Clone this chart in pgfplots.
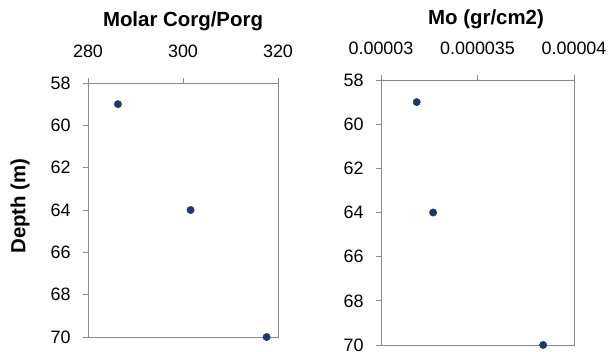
\documentclass[border=0pt]{standalone}
\usepackage{fontspec}
\setmainfont{Liberation Sans}
\usepackage{pgfplots}
\pgfplotsset{compat=1.18}
\definecolor{mk}{HTML}{1F3864}
\definecolor{axc}{HTML}{898989}
\begin{document}
\begin{tikzpicture}[x=1bp,y=1bp]
\useasboundingbox (0,0) rectangle (612,351);
\pgfplotsset{
  panel/.style={
    anchor=south west, scale only axis, clip=false,
    ymin=58, ymax=70, y dir=reverse, ytick={58,60,62,64,66,68,70},
    xtick pos=right, xticklabel pos=right, ytick pos=left,
    scaled x ticks=false,
    tick align=outside, major tick length=5bp,
    axis line style={axc, line width=0.8bp},
    tick style={axc, line width=0.8bp},
    /pgf/number format/assume math mode=true,
    tick label style={font=\fontsize{18}{20}\selectfont, text=black},
    xticklabel style={yshift=17bp},
    yticklabel style={xshift=-9bp},
    title style={anchor=base, font=\fontsize{20.5}{23}\selectfont\bfseries},
    ylabel style={anchor=center, font=\fontsize{20.5}{23}\selectfont\bfseries},
  },
}
\begin{axis}[panel,
  at={(88bp,14bp)}, width=190bp, height=254bp,
  xmin=280, xmax=320, xtick={280,300,320},
  title={Molar Corg/Porg},
  title style={at={(axis description cs:0.5,1.2008)}},
  ylabel={Depth (m)},
  ylabel style={at={(axis description cs:-0.358,0.516)}},
]
\addplot[only marks, mark=*, mark size=3.7bp, mk, mark options={draw=mk, fill=mk}]
  coordinates {(286.3,59) (301.6,64) (317.6,70)};
\end{axis}
\begin{axis}[panel,
  at={(381bp,6bp)}, width=193bp, height=265bp,
  xmin=0.00003, xmax=0.00004, xtick={0.00003,0.000035,0.00004},
  xticklabels={0.00003,0.000035,0.00004},
  title={Mo (gr/cm2)},
  title style={at={(axis description cs:0.544,1.1887)}},
]
\addplot[only marks, mark=*, mark size=3.7bp, mk, mark options={draw=mk, fill=mk}]
  coordinates {(0.00003185,59) (0.0000327,64) (0.0000384,70)};
\end{axis}
\end{tikzpicture}
\end{document}
